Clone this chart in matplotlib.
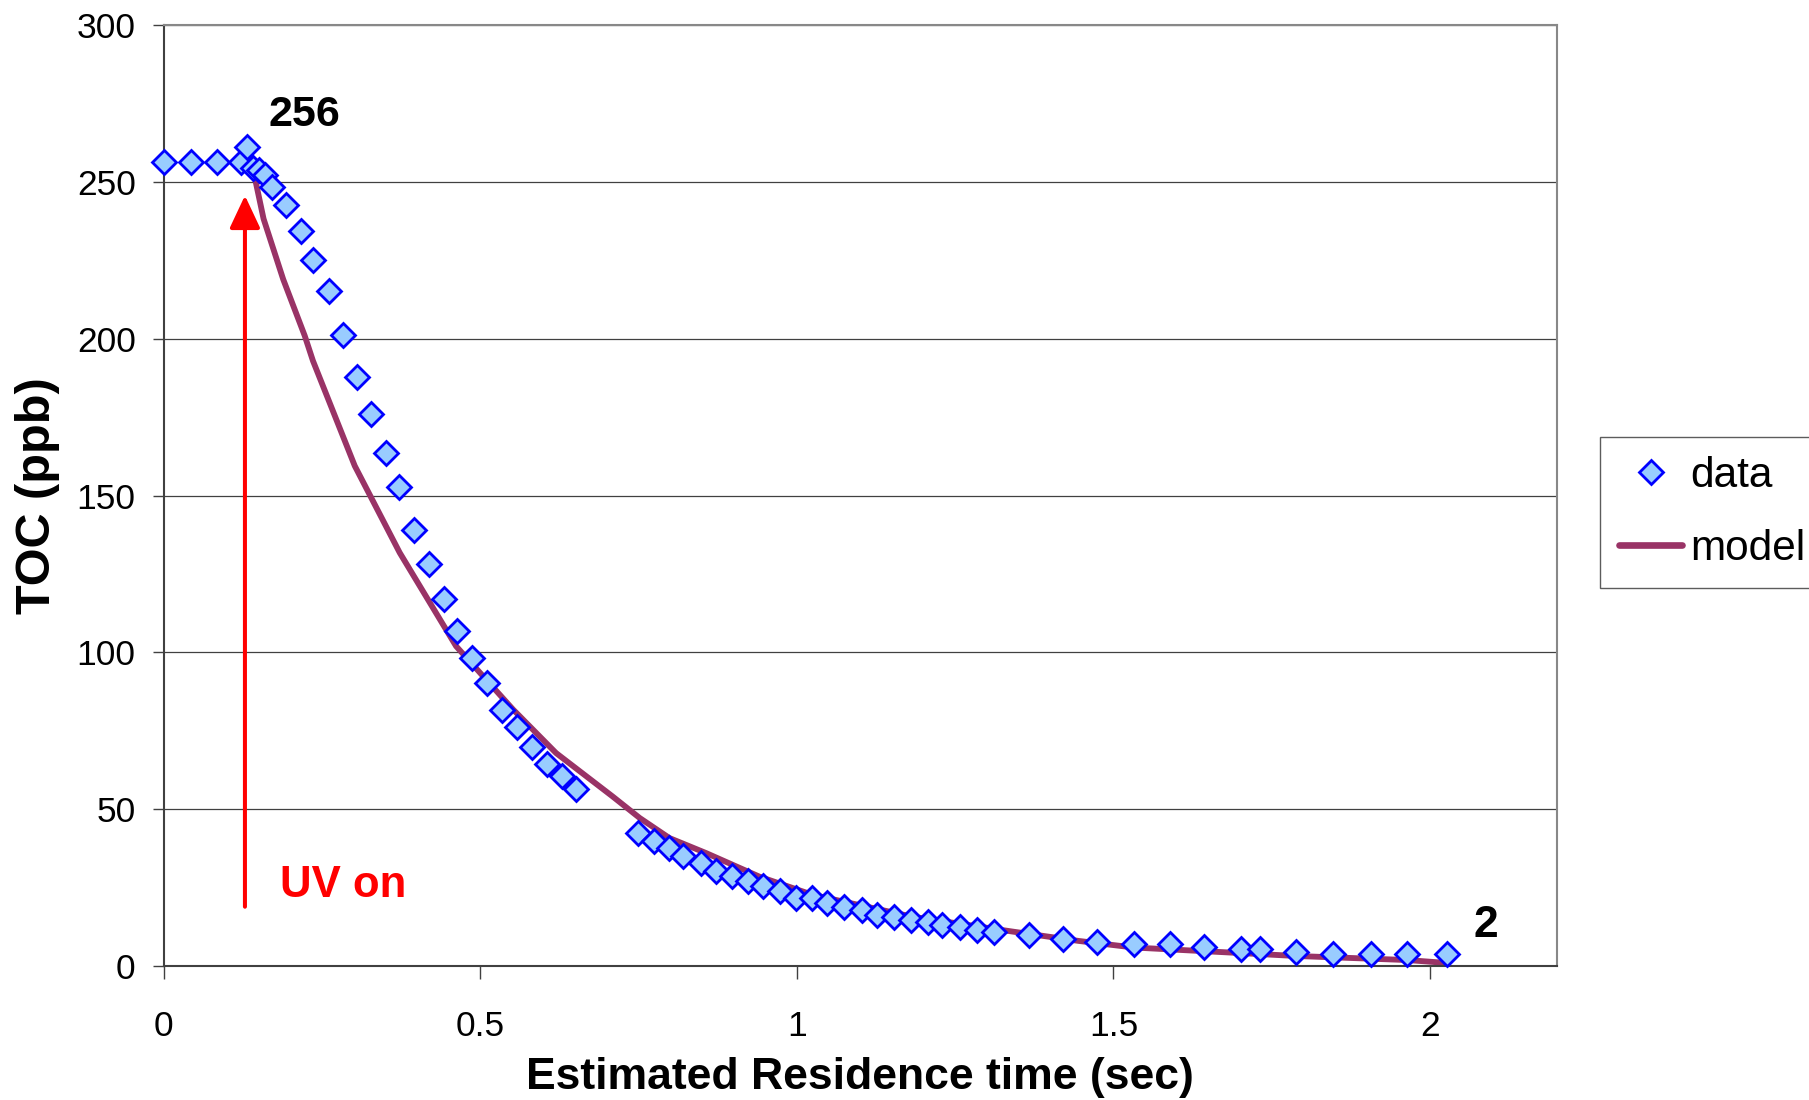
import matplotlib
matplotlib.use("Agg")
import matplotlib.pyplot as plt
from matplotlib.lines import Line2D

# ---- data ----
t_data = [0.000, 0.044, 0.085, 0.123, 0.132, 0.141, 0.151, 0.160, 0.172, 0.193,
          0.217, 0.236, 0.261, 0.284, 0.305, 0.328, 0.352, 0.372, 0.396, 0.420,
          0.443, 0.463, 0.487, 0.511, 0.534, 0.558, 0.582, 0.605, 0.629, 0.652,
          0.750, 0.774, 0.798, 0.821, 0.849, 0.873, 0.897, 0.923, 0.947, 0.974,
          0.998, 1.024, 1.048, 1.075, 1.103, 1.126, 1.153, 1.180, 1.207, 1.230,
          1.257, 1.285, 1.312, 1.366, 1.420, 1.474, 1.532, 1.589, 1.643, 1.701,
          1.731, 1.788, 1.846, 1.907, 1.964, 2.026]
toc_data = [256.4, 256.4, 256.4, 256.4, 261.2, 254.5, 253.7, 252.1, 248.4, 242.7,
            234.3, 225.0, 215.4, 201.3, 187.9, 176.0, 163.5, 152.6, 139.2, 128.1,
            117.1, 106.8, 98.1, 90.3, 81.5, 76.2, 69.8, 64.3, 60.5, 56.6,
            42.4, 39.9, 37.6, 35.1, 32.8, 30.4, 28.8, 27.2, 25.6, 24.0,
            21.7, 21.8, 20.2, 18.7, 17.9, 16.3, 15.6, 14.7, 14.0, 13.1,
            12.4, 11.5, 10.8, 10.0, 8.5, 7.7, 6.9, 6.9, 6.2, 5.3,
            5.3, 4.6, 3.7, 3.7, 3.7, 3.7]

t_model = [0.141, 0.158, 0.189, 0.223, 0.236, 0.302, 0.373, 0.462, 0.552, 0.620,
           0.709, 0.752, 0.799, 0.857, 0.941, 1.025, 1.183, 1.340, 1.445, 1.532,
           1.788, 1.964, 2.024]
toc_model = [254.5, 238.3, 219.0, 201.0, 193.0, 159.5, 131.8, 102.0, 81.8, 67.9,
             54.1, 47.2, 40.8, 36.0, 28.5, 22.7, 15.7, 11.0, 8.0, 5.9,
             3.2, 1.9, 1.0]

x_ticks = [0, 0.5, 1, 1.5, 2]
x_tick_labels = ["0", "0.5", "1", "1.5", "2"]
y_ticks = [0, 50, 100, 150, 200, 250, 300]

FAM = ["Liberation Sans", "DejaVu Sans"]

W, H = 1809, 1100
fig = plt.figure(figsize=(W / 100, H / 100), dpi=100)
L, R, T, B = 163.5, 1556.7, 25.3, 966.0
ax = fig.add_axes([L / W, 1 - B / H, (R - L) / W, (B - T) / H])

ax.set_xlim(0, 2.2)
ax.set_ylim(0, 300)
ax.set_xticks(x_ticks)
ax.set_xticklabels(x_tick_labels)
ax.set_yticks(y_ticks)

# grid
ax.grid(axis="y", color="#404040", linewidth=0.9, zorder=0)
ax.set_axisbelow(True)

for side in ["top", "right"]:
    ax.spines[side].set_color("#888888")
    ax.spines[side].set_linewidth(1.5)
for side in ["left", "bottom"]:
    ax.spines[side].set_color("#404040")
    ax.spines[side].set_linewidth(1.5)

ax.tick_params(axis="y", direction="out", length=8, width=1, color="#404040",
               pad=12, labelsize=25.5)
ax.tick_params(axis="x", direction="out", length=9, width=1, color="#404040",
               pad=23, labelsize=25.5)
for lab in ax.get_xticklabels() + ax.get_yticklabels():
    lab.set_family(FAM)

# series
ax.plot(t_model, toc_model, color="#993366", linewidth=4.2, zorder=2)
ax.plot(t_data, toc_data, linestyle="none", marker="D", markersize=12.5,
        markerfacecolor="#99CCFF", markeredgecolor="#0000FF",
        markeredgewidth=2.0, zorder=3, clip_on=False)

# annotations
ax.text(0.1653, 268.0, "256", fontsize=31, fontweight="bold", family=FAM,
        ha="left", va="baseline")
ax.text(2.069, 9.2, "2", fontsize=32, fontweight="bold", family=FAM,
        ha="left", va="baseline")
ax.text(0.184, 22.1, "UV on", fontsize=31.5, fontweight="bold", family=FAM,
        color="#FF0000", ha="left", va="baseline")
ax.annotate("", xy=(0.1286, 245.7), xytext=(0.1286, 18.9),
            arrowprops=dict(arrowstyle="-|>,head_length=1.0,head_width=0.47",
                            color="#FF0000", lw=2.9, mutation_scale=20,
                            shrinkA=0, shrinkB=0))

# axis labels
ax.set_xlabel("Estimated Residence time (sec)", fontsize=32, fontweight="bold",
              family=FAM, va="baseline")
ax.xaxis.set_label_coords(0.5, -(1089.0 - B) / (B - T))
ax.set_ylabel("TOC (ppb)", fontsize=35, fontweight="bold", family=FAM)
ax.yaxis.set_label_coords(-(L - 60) / (R - L), 0.5)

# legend
handles = [
    Line2D([], [], linestyle="none", marker="D", markersize=12.5,
           markerfacecolor="#99CCFF", markeredgecolor="#0000FF",
           markeredgewidth=2.0),
    Line2D([], [], color="#993366", linewidth=4.8, solid_capstyle="round"),
]
leg = fig.legend(handles, ["data", "model"], loc="upper left",
                 bbox_to_anchor=(1600 / W, 1 - 436.7 / H),
                 prop=dict(family=FAM, size=30.5),
                 frameon=True, fancybox=False, edgecolor="#333333",
                 borderpad=0.45, handlelength=1.49, handletextpad=0.2,
                 labelspacing=0.78, borderaxespad=0)
leg.get_frame().set_linewidth(1.0)

fig.savefig("out.png", dpi=100)
